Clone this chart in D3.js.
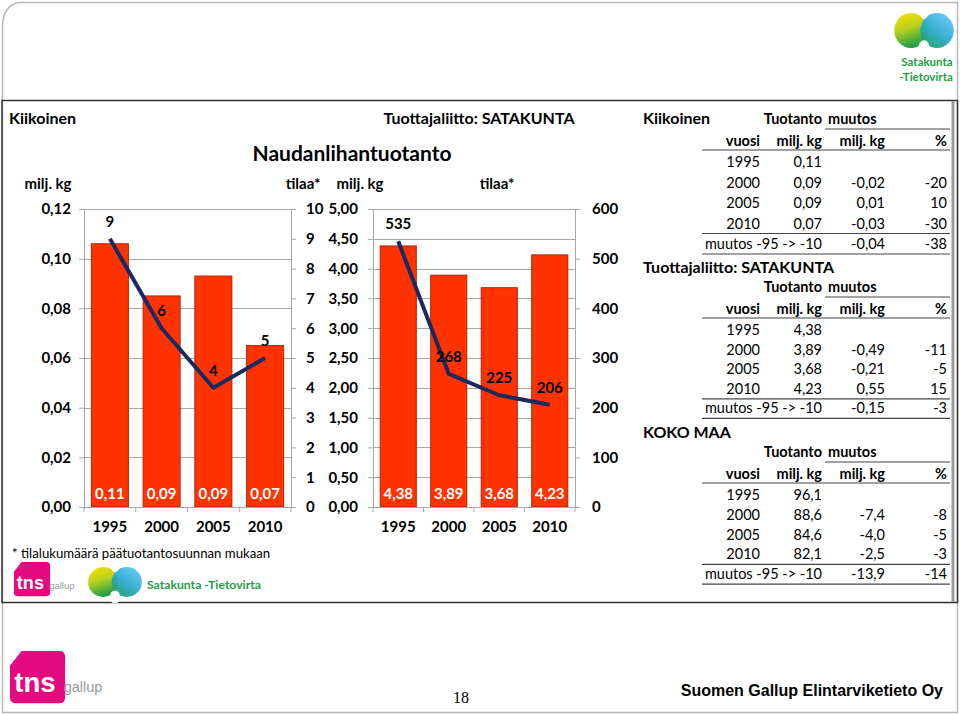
<!DOCTYPE html>
<html><head><meta charset="utf-8">
<script src="https://cdn.jsdelivr.net/npm/d3@7"></script>
<style>body{margin:0;background:#fff}svg{display:block;font-family:Lato,'Open Sans',sans-serif}</style>
</head><body><svg id="c" width="960" height="715"></svg>
<script>
// ---------- DATA ----------
const years = ["1995","2000","2005","2010"];
const kiikProd = [0.106, 0.085, 0.093, 0.065];
const kiikProdLabels = ["0,11","0,09","0,09","0,07"];
const kiikFarms = [9, 6, 4, 5];
const kiikLeftTicks = [0, 0.02, 0.04, 0.06, 0.08, 0.10, 0.12];
const kiikRightTicks = [0,1,2,3,4,5,6,7,8,9,10];
const sataProd = [4.38, 3.89, 3.68, 4.23];
const sataProdLabels = ["4,38","3,89","3,68","4,23"];
const sataFarms = [535, 268, 225, 206];
const sataLeftTicks = [0,0.5,1,1.5,2,2.5,3,3.5,4,4.5,5];
const sataRightTicks = [0,100,200,300,400,500,600];

const tableHead1 = ["Tuotanto","muutos"];
const tableHead2 = ["vuosi","milj. kg","milj. kg","%"];
const totalLabel = "muutos -95 -> -10";
const kiikTable = [["1995","0,11","",""],["2000","0,09","-0,02","-20"],["2005","0,09","0,01","10"],["2010","0,07","-0,03","-30"]];
const kiikTotal = ["-0,04","-38"];
const sataTable = [["1995","4,38","",""],["2000","3,89","-0,49","-11"],["2005","3,68","-0,21","-5"],["2010","4,23","0,55","15"]];
const sataTotal = ["-0,15","-3"];
const kokoTable = [["1995","96,1","",""],["2000","88,6","-7,4","-8"],["2005","84,6","-4,0","-5"],["2010","82,1","-2,5","-3"]];
const kokoTotal = ["-13,9","-14"];

// ---------- DRAW ----------
const svg = d3.select("#c");
const comma = f => v => d3.format(f)(v).replace(".", ",");
const BAR = "#FF3300", BARSTROKE = "#B32400", LINE = "#1B2A5E", GRID = "#a8a8a8";

// frames
svg.append("path").attr("d","M2.5,24 Q4,6 18,2.5 L957.5,2.5 L957.5,712.5 L2.5,712.5 Z")
  .attr("fill","none").attr("stroke","#b8b8b8").attr("stroke-width",1.5);
svg.append("rect").attr("x",2).attr("y",100.5).attr("width",955.5).attr("height",502)
  .attr("fill","none").attr("stroke","#333").attr("stroke-width",1.5);
svg.append("line").attr("x1",953).attr("x2",953).attr("y1",101).attr("y2",602)
  .attr("stroke","#9a9a9a").attr("stroke-width",3);

function chart(c){
  const g = svg.append("g");
  const x = d3.scaleBand().domain(years).range([c.x0, c.x1]).paddingInner(c.pad).paddingOuter(c.pad/2);
  const yL = d3.scaleLinear().domain([0, d3.max(c.lt)]).range([507, 209]);
  const yR = d3.scaleLinear().domain([0, d3.max(c.rt)]).range([507, 209]);
  g.append("g").selectAll("line").data(c.lt).join("line")
    .attr("x1", c.x0).attr("x2", c.x1).attr("y1", d=>Math.round(yL(d))+0.5).attr("y2", d=>Math.round(yL(d))+0.5)
    .attr("stroke", GRID).attr("stroke-width",1);
  g.append("g").selectAll("rect").data(c.prod).join("rect")
    .attr("x",(d,i)=>x(years[i])).attr("width",x.bandwidth())
    .attr("y",d=>yL(d)).attr("height",d=>yL(0)-yL(d))
    .attr("fill",BAR).attr("stroke",BARSTROKE).attr("stroke-width",1);
  const aL = g.append("g").attr("transform",`translate(${c.x0},0)`)
    .call(d3.axisLeft(yL).tickValues(c.lt).tickSize(5).tickPadding(c.lpad).tickFormat(c.lf));
  const aR = g.append("g").attr("transform",`translate(${c.x1},0)`)
    .call(d3.axisRight(yR).tickValues(c.rt).tickSize(5).tickPadding(c.rpad).tickFormat(c.rf));
  [aL,aR].forEach(a=>{
    a.selectAll("path,line").attr("stroke",GRID);
    a.selectAll("text").attr("font-size",15).attr("font-weight","bold").attr("fill","#000").attr("font-family","Lato");
  });
  const aX = g.append("g").attr("transform","translate(0,507)")
    .call(d3.axisBottom(x).tickSize(0).tickPadding(14));
  aX.select(".domain").attr("stroke",GRID);
  aX.selectAll("text").attr("font-size",15).attr("font-weight","bold").attr("fill","#000").attr("font-family","Lato");
  g.append("g").selectAll("line").data(d3.range(years.length+1)).join("line")
    .attr("x1",i=>c.x0 + i*x.step()).attr("x2",i=>c.x0 + i*x.step())
    .attr("y1",507).attr("y2",512).attr("stroke",GRID);
  g.append("g").selectAll("text").data(c.plab).join("text")
    .attr("x",(d,i)=>x(years[i])+x.bandwidth()/2).attr("y",499)
    .attr("text-anchor","middle").attr("font-size",15).attr("font-weight","bold").attr("fill","#fff").text(d=>d);
  const line = d3.line().x((d,i)=>x(years[i])+x.bandwidth()/2).y(d=>yR(d));
  g.append("path").datum(c.farms).attr("d",line).attr("fill","none")
    .attr("stroke",LINE).attr("stroke-width",4).attr("stroke-linejoin","round");
  g.append("g").selectAll("text").data(c.farms).join("text")
    .attr("x",(d,i)=>x(years[i])+x.bandwidth()/2).attr("y",d=>yR(d)-12)
    .attr("text-anchor","middle").attr("font-size",15).attr("font-weight","bold").attr("fill","#000").text(d=>d);
  g.append("text").attr("x",c.tl).attr("y",189).attr("text-anchor","middle").attr("font-size",15).attr("font-weight","bold").text("milj. kg");
  g.append("text").attr("x",c.tr).attr("y",189).attr("text-anchor","middle").attr("font-size",15).attr("font-weight","bold").text("tilaa*");
}

chart({x0:84, x1:291, pad:0.285, prod:kiikProd, plab:kiikProdLabels, farms:kiikFarms,
  lt:kiikLeftTicks, rt:kiikRightTicks, lf:comma(".2f"), rf:d3.format("d"), lpad:8, rpad:10, tl:48, tr:303});
chart({x0:373, x1:575, pad:0.285, prod:sataProd, plab:sataProdLabels, farms:sataFarms,
  lt:sataLeftTicks, rt:sataRightTicks, lf:comma(".2f"), rf:d3.format("d"), lpad:10, rpad:12, tl:360, tr:497});

svg.append("text").attr("x",9).attr("y",124).attr("font-size",16).attr("font-weight","bold").text("Kiikoinen");
svg.append("text").attr("x",479).attr("y",124).attr("text-anchor","middle").attr("font-size",16).attr("font-weight","bold").text("Tuottajaliitto: SATAKUNTA");
svg.append("text").attr("x",352).attr("y",161).attr("text-anchor","middle").attr("font-size",21).attr("font-weight","bold").text("Naudanlihantuotanto");
svg.append("text").attr("x",12).attr("y",558).attr("font-size",13.2).text("* tilalukumäärä päätuotantosuunnan mukaan");

const colX = [760, 822, 885, 947];
function table(title, ty, y0, rows, total, sp){
  svg.append("text").attr("x",643).attr("y",ty+6).attr("font-size",16).attr("font-weight","bold").text(title);
  const g = svg.append("g").attr("font-size",14.5);
  g.append("text").attr("x",822).attr("y",y0+5).attr("text-anchor","end").attr("font-weight","bold").text(tableHead1[0]);
  g.append("text").attr("x",828).attr("y",y0+5).attr("font-weight","bold").text(tableHead1[1]);
  g.append("line").attr("x1",825).attr("x2",950).attr("y1",y0+10).attr("y2",y0+10).attr("stroke","#444").attr("stroke-width",1.2);
  g.selectAll(".h2").data(tableHead2).join("text").attr("x",(d,i)=>colX[i]).attr("y",y0+27)
    .attr("text-anchor","end").attr("font-weight","bold").text(d=>d);
  g.append("line").attr("x1",702).attr("x2",950).attr("y1",y0+31).attr("y2",y0+31).attr("stroke","#444").attr("stroke-width",1.2);
  rows.forEach((r,ri)=>{
    r.forEach((v,ci)=>{ if(v) g.append("text").attr("x",colX[ci]).attr("y",y0+48+ri*sp).attr("text-anchor","end").text(v); });
  });
  const ly = y0+43+3*sp+10;
  g.append("line").attr("x1",702).attr("x2",950).attr("y1",ly).attr("y2",ly).attr("stroke","#444").attr("stroke-width",1.2);
  const ty2 = y0+48+4*sp;
  g.append("text").attr("x",colX[1]).attr("y",ty2).attr("text-anchor","end").text(totalLabel);
  g.append("text").attr("x",colX[2]).attr("y",ty2).attr("text-anchor","end").text(total[0]);
  g.append("text").attr("x",colX[3]).attr("y",ty2).attr("text-anchor","end").text(total[1]);
  g.append("line").attr("x1",702).attr("x2",950).attr("y1",ly+sp).attr("y2",ly+sp).attr("stroke","#444").attr("stroke-width",1.2);
}
table("Kiikoinen", 118, 119, kiikTable, kiikTotal, 20.5);
table("Tuottajaliitto: SATAKUNTA", 267, 287, sataTable, sataTotal, 19.6);
table("KOKO MAA", 432, 452, kokoTable, kokoTotal, 19.8);

// logos
const defs = svg.append("defs");
const g1 = defs.append("linearGradient").attr("id","gy").attr("x1",0).attr("y1",0).attr("x2",0.3).attr("y2",1);
g1.append("stop").attr("offset","0").attr("stop-color","#FFE100");
g1.append("stop").attr("offset","0.5").attr("stop-color","#B9D21E");
g1.append("stop").attr("offset","1").attr("stop-color","#23A045");
const g2 = defs.append("linearGradient").attr("id","gb").attr("x1",0).attr("y1",1).attr("x2",0.7).attr("y2",0);
g2.append("stop").attr("offset","0").attr("stop-color","#1F9B3E");
g2.append("stop").attr("offset","0.5").attr("stop-color","#2AA9C8");
g2.append("stop").attr("offset","1").attr("stop-color","#5CC5F5");
function mlogo(x,y,w,h){
  const g = svg.append("g");
  g.append("ellipse").attr("cx",x+w*0.29).attr("cy",y+h*0.5).attr("rx",w*0.27).attr("ry",h*0.5).attr("fill","url(#gy)");
  g.append("ellipse").attr("cx",x+w*0.71).attr("cy",y+h*0.5).attr("rx",w*0.27).attr("ry",h*0.5).attr("fill","url(#gb)").attr("opacity",0.95);
  g.append("ellipse").attr("cx",x+w*0.5).attr("cy",y+h*1.0).attr("rx",w*0.09).attr("ry",h*0.22).attr("fill","#fff");
  g.append("ellipse").attr("cx",x+w*0.5).attr("cy",y).attr("rx",w*0.07).attr("ry",h*0.16).attr("fill","#fff");
}
function tns(x,y,s){
  const g = svg.append("g").attr("transform",`translate(${x},${y}) scale(${s})`);
  g.append("path").attr("d","M8,0 L34,0 Q38,0 38,4 L38,32 Q38,36 34,36 L4,36 Q0,36 0,32 L0,10 Z").attr("fill","#E5097F");
  g.append("text").attr("x",3).attr("y",28).attr("font-size",19).attr("font-weight","bold").attr("fill","#fff").attr("font-family","Liberation Sans").text("tns");
  g.append("text").attr("x",37).attr("y",28).attr("font-size",10).attr("fill","#9a9a9a").attr("font-family","Liberation Sans").text("gallup");
}
mlogo(893,13,62,35);
svg.append("text").attr("x",927).attr("y",66).attr("text-anchor","middle").attr("font-size",11.5).attr("font-weight","bold").attr("fill","#1E9E45").text("Satakunta");
svg.append("text").attr("x",926).attr("y",81).attr("text-anchor","middle").attr("font-size",11.5).attr("font-weight","bold").attr("fill","#1E9E45").text("-Tietovirta");
mlogo(87,567,56,30);
svg.append("text").attr("x",147).attr("y",589).attr("font-size",12.2).attr("font-weight","bold").attr("fill","#1E9E45").text("Satakunta -Tietovirta");
tns(14,562,0.95);
tns(10,651,1.45);
svg.append("text").attr("x",461).attr("y",703).attr("text-anchor","middle").attr("font-size",16).attr("font-family","Liberation Serif").text("18");
svg.append("text").attr("x",943).attr("y",696).attr("text-anchor","end").attr("font-size",16).attr("font-weight","bold").attr("font-family","Liberation Sans").text("Suomen Gallup Elintarviketieto Oy");
</script></body></html>
